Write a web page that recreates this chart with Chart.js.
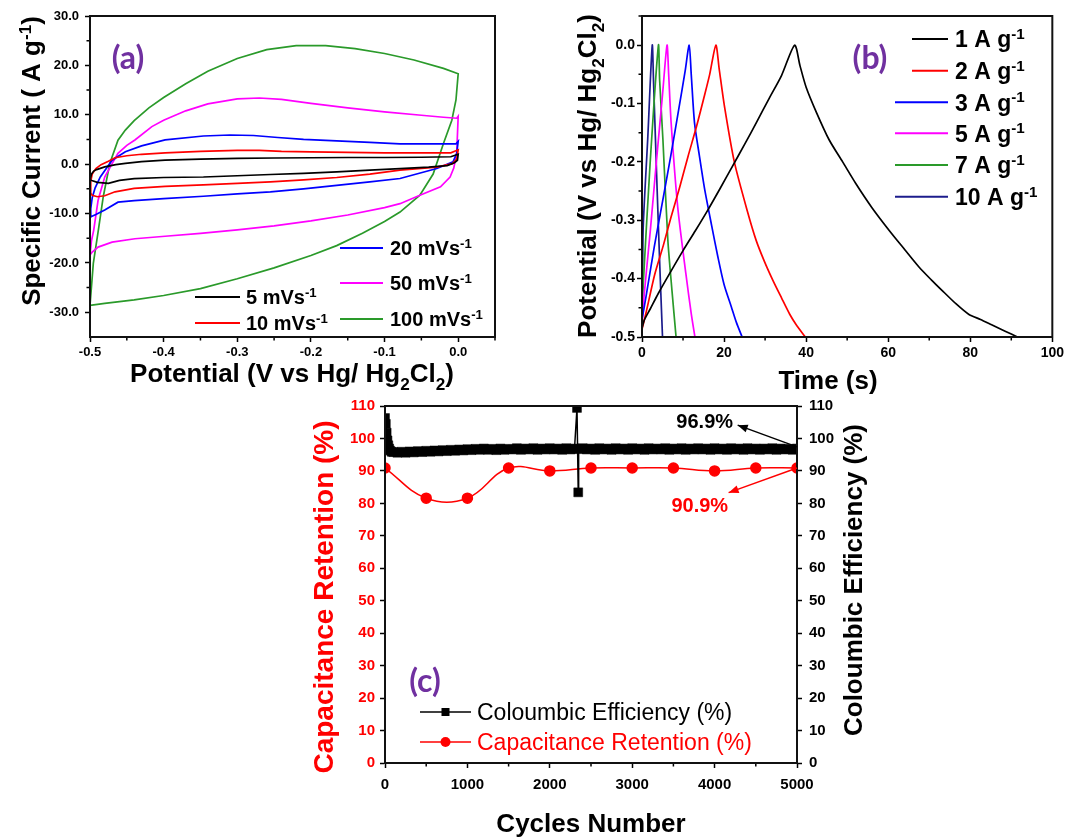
<!DOCTYPE html>
<html>
<head>
<meta charset="utf-8">
<title>CV, GCD and cycling stability</title>
<script src="https://cdn.jsdelivr.net/npm/chart.js@4.4.1/dist/chart.umd.min.js"></script>
<style>
  html, body { margin:0; padding:0; background:#ffffff; }
  body { width:1067px; height:837px; position:relative; overflow:hidden; }
  canvas { position:absolute; display:block; }
  #cvA { left:0; top:0; }
  #gcdB { left:520px; top:0; }
  #cycC { left:300px; top:390px; }
</style>
</head>
<body>
<canvas id="cvA" width="520" height="400"></canvas>
<canvas id="gcdB" width="547" height="400"></canvas>
<canvas id="cycC" width="600" height="447"></canvas>
<script>
// ---------------- DATA: (a) cyclic voltammetry ----------------
const cvRates = ['5', '10', '20', '50', '100'];
const cvTicksX = [-0.5, -0.4, -0.3, -0.2, -0.1, 0];
const cvTickLabelsX = ['-0.5', '-0.4', '-0.3', '-0.2', '-0.1', '0.0'];
const cvTicksY = [-30, -20, -10, 0, 10, 20, 30];
const cvTickLabelsY = ['-30.0', '-20.0', '-10.0', '0.0', '10.0', '20.0', '30.0'];
const cvMinorX = [-0.45, -0.35, -0.25, -0.15, -0.05, 0.05];
const cvMinorY = [-25, -15, -5, 5, 15, 25];

const cv5Pot = [-0.5,-0.498,-0.495,-0.491,-0.48,-0.465,-0.452,-0.43,-0.398,-0.35,-0.3,-0.25,-0.2,-0.15,-0.1,-0.05,-0.01,0,
                0,-0.001,-0.005,-0.015,-0.04,-0.079,-0.12,-0.165,-0.21,-0.255,-0.3,-0.346,-0.4,-0.44,-0.46,-0.475,-0.49,-0.5];
const cv5Cur = [-3.2,-2.0,-1.4,-1.1,-0.55,-0.1,0.14,0.5,0.8,1.0,1.15,1.25,1.3,1.35,1.35,1.4,1.5,2.0,
                2.0,0.8,0.3,-0.3,-0.6,-0.9,-1.2,-1.55,-1.85,-2.1,-2.35,-2.6,-2.7,-2.95,-3.3,-3.9,-3.7,-3.2];

const cv10Pot = [-0.5,-0.499,-0.497,-0.492,-0.485,-0.475,-0.466,-0.45,-0.43,-0.398,-0.35,-0.3,-0.27,-0.24,-0.2,-0.15,-0.1,-0.05,-0.01,0,
                 0,-0.002,-0.008,-0.029,-0.079,-0.12,-0.165,-0.21,-0.255,-0.3,-0.346,-0.398,-0.44,-0.466,-0.48,-0.49,-0.497,-0.5];
const cv10Cur = [-5.7,-3.5,-2.0,-0.9,-0.1,0.6,1.3,1.7,2.0,2.3,2.6,2.8,2.8,2.6,2.5,2.4,2.3,2.3,2.3,2.9,
                 2.9,1.0,0.1,-0.6,-1.2,-2.0,-2.7,-3.2,-3.6,-3.9,-4.2,-4.5,-4.9,-5.6,-6.4,-6.6,-6.3,-5.7];

const cv20Pot = [-0.5,-0.499,-0.497,-0.493,-0.486,-0.47,-0.452,-0.43,-0.398,-0.346,-0.31,-0.278,-0.245,-0.21,-0.165,-0.12,-0.079,-0.029,-0.003,0,
                 0,-0.002,-0.007,-0.029,-0.079,-0.12,-0.165,-0.21,-0.255,-0.3,-0.346,-0.4,-0.44,-0.462,-0.48,-0.492,-0.498,-0.5];
const cv20Cur = [-10.7,-9.0,-6.8,-4.8,-2.6,0.8,2.5,3.7,4.9,5.7,5.9,5.8,5.4,5.0,4.7,4.4,4.1,4.1,4.1,4.6,
                 4.6,2.2,0.46,-0.87,-2.9,-3.6,-4.3,-5.0,-5.6,-6.0,-6.5,-7.0,-7.4,-7.7,-9.3,-10.2,-10.6,-10.7];

const cv50Pot = [-0.5,-0.498,-0.495,-0.489,-0.48,-0.47,-0.462,-0.45,-0.439,-0.416,-0.4,-0.37,-0.34,-0.3,-0.27,-0.24,-0.2,-0.15,-0.1,-0.05,-0.02,-0.002,0,
                 0,-0.002,-0.006,-0.011,-0.024,-0.052,-0.079,-0.1,-0.15,-0.2,-0.25,-0.3,-0.35,-0.398,-0.439,-0.47,-0.489,-0.497,-0.5];
const cv50Cur = [-18.4,-15.5,-13.4,-7.3,-2.6,0.1,2.2,3.8,4.9,7.6,8.9,10.8,12.2,13.2,13.4,13.1,12.3,11.4,10.6,9.9,9.5,9.3,9.7,
                 9.7,2.2,-0.8,-2.6,-4.6,-6.3,-8.0,-8.8,-10.3,-11.5,-12.5,-13.3,-14.0,-14.6,-15.1,-15.8,-16.8,-17.8,-18.4];

const cv100Pot = [-0.5,-0.4955,-0.4887,-0.482,-0.473,-0.462,-0.452,-0.44,-0.42,-0.4,-0.37,-0.34,-0.3,-0.26,-0.22,-0.18,-0.14,-0.1,-0.06,-0.02,0,
                  0,-0.003,-0.0086,-0.02,-0.034,-0.052,-0.079,-0.1,-0.13,-0.165,-0.2,-0.25,-0.3,-0.35,-0.4,-0.44,-0.48,-0.5];
const cv100Cur = [-28.6,-20.1,-13.4,-6.6,0.2,4.86,6.9,8.8,11.4,13.5,16.3,18.8,21.4,23.2,24.0,24.0,23.4,22.4,21.1,19.4,18.3,
                  18.3,13.0,8.9,4.2,-2.0,-6.3,-9.7,-11.6,-14.0,-16.5,-18.5,-21.0,-23.2,-25.2,-26.6,-27.5,-28.2,-28.6];

// ---------------- DATA: (b) galvanostatic charge/discharge ----------------
const gcdCurrents = ['1', '2', '3', '5', '7', '10'];
const gcdTicksX = [0, 20, 40, 60, 80, 100];
const gcdTickLabelsX = ['0', '20', '40', '60', '80', '100'];
const gcdTicksY = [-0.5, -0.4, -0.3, -0.2, -0.1, 0];
const gcdTickLabelsY = ['-0.5', '-0.4', '-0.3', '-0.2', '-0.1', '0.0'];
const gcdMinorX = [10, 30, 50, 70, 90];
const gcdMinorY = [-0.45, -0.35, -0.25, -0.15, -0.05, 0.05];

const gcd1Time = [0,0.5,2,4,7,10,13,16,19,22,25,28,31,34,37.2, 38.5,40,42.5,45.6,48.9,52.1,56,60.2,64,67.5,70.5,73.1,76.5,79.6,82.5,85.2,88.5,91.5];
const gcd1Pot  = [-0.485,-0.472,-0.452,-0.425,-0.388,-0.352,-0.318,-0.283,-0.246,-0.208,-0.17,-0.131,-0.091,-0.052,0,
                  -0.035,-0.072,-0.115,-0.162,-0.2,-0.237,-0.278,-0.317,-0.35,-0.38,-0.402,-0.42,-0.443,-0.461,-0.47,-0.479,-0.49,-0.5];
const gcd2Time = [0,1,3.1,5.2,7.1,9.2,11.2,13.3,15.2,16.5,18, 18.8,20.1,22.5,25.7,27.8,29.8,31.9,34,36,37.5,39.8];
const gcd2Pot  = [-0.487,-0.458,-0.393,-0.343,-0.294,-0.243,-0.191,-0.139,-0.087,-0.05,0,
                  -0.04,-0.105,-0.2,-0.285,-0.334,-0.37,-0.403,-0.433,-0.461,-0.478,-0.5];
const gcd3Time = [0,1,3,5,7,9,10.5,11.5, 12,12.8,14,15.3,17,18.5,20,21.8,23,24.4];
const gcd3Pot  = [-0.47,-0.43,-0.345,-0.268,-0.19,-0.108,-0.045,0, -0.05,-0.133,-0.19,-0.248,-0.31,-0.363,-0.41,-0.449,-0.475,-0.5];
const gcd5Time = [0,0.5,2,3.5,5,6.1, 6.5,7.1,8.7,10.7,12,12.9];
const gcd5Pot  = [-0.48,-0.43,-0.32,-0.2,-0.085,0, -0.05,-0.133,-0.277,-0.392,-0.46,-0.5];
const gcd7Time = [0,0.3,2,4.0, 4.3,5.1,6.3,7.3,8.3];
const gcd7Pot  = [-0.46,-0.41,-0.2,0, -0.06,-0.162,-0.334,-0.42,-0.5];
const gcd10Time = [0,0.15,0.3,1.4,2.5, 2.8,3.7,4.4,5.0];
const gcd10Pot  = [-0.48,-0.4,-0.31,-0.16,0, -0.06,-0.25,-0.39,-0.5];

// ---------------- DATA: (c) cycling stability ----------------
const cycTicksX = [0, 1000, 2000, 3000, 4000, 5000];
const cycTickLabelsX = ['0', '1000', '2000', '3000', '4000', '5000'];
const cycTicksY = [0, 10, 20, 30, 40, 50, 60, 70, 80, 90, 100, 110];
const cycTickLabelsY = ['0', '10', '20', '30', '40', '50', '60', '70', '80', '90', '100', '110'];
const cycMinorX = [500, 1500, 2500, 3500, 4500];

const ceCycles = [0,10,20,30,40,50,60,80,100,150,200,250,300,350,400,450,500,550,600,650,700,750,800,850,900,950,
  1000,1050,1100,1150,1200,1250,1300,1350,1400,1450,1500,1550,1600,1650,1700,1750,1800,1850,1900,1950,
  2000,2050,2100,2150,2200,2250,2300,2330,2345,2350,2400,2450,2500,2550,2600,2650,2700,2750,2800,2850,2900,2950,
  3000,3050,3100,3150,3200,3250,3300,3350,3400,3450,3500,3550,3600,3650,3700,3750,3800,3850,3900,3950,
  4000,4050,4100,4150,4200,4250,4300,4350,4400,4450,4500,4550,4600,4650,4700,4750,4800,4850,4900,4950,5000];
const ceValues = [106.3,104.5,101.8,99.4,97.9,96.9,96.3,95.9,95.8,95.6,95.9,95.6,96.0,95.7,96.1,95.8,96.2,95.9,96.3,96.0,96.4,96.1,96.5,96.2,96.6,96.3,
  96.7,96.4,96.8,96.5,96.9,96.5,96.8,96.4,96.9,96.5,96.8,96.6,97.0,96.5,96.9,96.6,97.0,96.5,96.9,96.6,
  97.0,96.6,96.9,96.5,97.0,96.6,96.9,109.4,83.4,96.7,97.0,96.6,96.9,96.5,97.0,96.6,96.9,96.5,97.0,96.6,96.9,96.5,
  97.0,96.6,96.9,96.5,97.0,96.6,96.9,96.6,97.0,96.5,96.9,96.6,97.0,96.5,96.9,96.6,97.0,96.6,96.9,96.5,
  97.0,96.6,96.9,96.5,97.0,96.6,96.9,96.5,97.0,96.6,96.9,96.5,96.9,96.6,97.0,96.5,96.9,96.6,96.8,96.5,96.9];
const retCycles = [0, 500, 1000, 1500, 2000, 2500, 3000, 3500, 4000, 4500, 5000];
const retValues = [90.9, 81.6, 81.6, 90.9, 90.0, 90.9, 90.9, 90.9, 90.0, 90.9, 90.9];

// ---------------- styles ----------------
const SANS = "'Liberation Sans', Arial, Helvetica, sans-serif";
const PURPLE = '#7030a0';
const cvColors = ['#000000', '#ff0000', '#0000ff', '#ff00ff', '#2a9a2a'];
const gcdColors = ['#000000', '#ff0000', '#0000ff', '#ff00ff', '#2a9a2a', '#1c1c8c'];

// ---------------- helpers ----------------
function parseRich(s) {
  const out = [];
  s.split(/(_\{[^}]*\}|\^\{[^}]*\})/).forEach(p => {
    if (!p) return;
    if (p.startsWith('_{')) out.push({ t: p.slice(2, -1), sub: true });
    else if (p.startsWith('^{')) out.push({ t: p.slice(2, -1), sup: true });
    else out.push({ t: p });
  });
  return out;
}
function drawRich(ctx, str, x, y, o) {
  const size = o.size || 20, weight = o.weight || 'bold', fam = o.family || SANS;
  const segs = parseRich(str);
  ctx.save();
  ctx.translate(x, y);
  if (o.rot) ctx.rotate(o.rot);
  ctx.fillStyle = o.color || '#000';
  ctx.textBaseline = 'alphabetic';
  ctx.textAlign = 'left';
  let w = 0;
  const parts = segs.map(sg => {
    const sz = (sg.sub || sg.sup) ? size * 0.66 : size;
    ctx.font = weight + ' ' + sz + 'px ' + fam;
    const m = ctx.measureText(sg.t).width;
    w += m;
    return { sg, sz, m };
  });
  let cx = o.align === 'left' ? 0 : (o.align === 'right' ? -w : -w / 2);
  const base = size * 0.36;
  parts.forEach(p => {
    ctx.font = weight + ' ' + p.sz + 'px ' + fam;
    const dy = p.sg.sub ? size * 0.3 : (p.sg.sup ? -size * 0.36 : 0);
    ctx.fillText(p.sg.t, cx, base + dy);
    cx += p.m;
  });
  ctx.restore();
}

let decorCount = 0;
function makeDecor(cfg) {
  decorCount += 1;
  return {
    id: 'decor' + decorCount,
    afterDraw(chart) {
      const { ctx, chartArea: a, scales } = chart;
      const sx = scales.x, sy = scales.y;
      ctx.save();
      ctx.strokeStyle = '#000';
      ctx.lineWidth = 1.5;
      ctx.beginPath();
      (cfg.minorX || []).forEach(v => { const p = sx.getPixelForValue(v); ctx.moveTo(p, a.bottom); ctx.lineTo(p, a.bottom + 3.5); });
      (cfg.minorY || []).forEach(v => { const p = sy.getPixelForValue(v); ctx.moveTo(a.left, p); ctx.lineTo(a.left - 3.5, p); });
      ctx.stroke();
      ctx.lineWidth = 2;
      ctx.strokeStyle = '#111';
      ctx.strokeRect(a.left, a.top, a.right - a.left, a.bottom - a.top);
      ctx.restore();

      (cfg.arrows || []).forEach(ar => {
        const ys = scales[ar.axis];
        const x1 = sx.getPixelForValue(ar.from[0]), y1 = ys.getPixelForValue(ar.from[1]);
        const x2 = sx.getPixelForValue(ar.to[0]), y2 = ys.getPixelForValue(ar.to[1]);
        ctx.save();
        ctx.strokeStyle = ar.color; ctx.fillStyle = ar.color; ctx.lineWidth = 1.5;
        ctx.beginPath(); ctx.moveTo(x1, y1); ctx.lineTo(x2, y2); ctx.stroke();
        const ang = Math.atan2(y2 - y1, x2 - x1), L = 10, W = 4;
        ctx.beginPath();
        ctx.moveTo(x2, y2);
        ctx.lineTo(x2 - L * Math.cos(ang) + W * Math.sin(ang), y2 - L * Math.sin(ang) - W * Math.cos(ang));
        ctx.lineTo(x2 - L * Math.cos(ang) - W * Math.sin(ang), y2 - L * Math.sin(ang) + W * Math.cos(ang));
        ctx.closePath(); ctx.fill();
        ctx.restore();
      });

      (cfg.texts || []).forEach(t => {
        let x = t.x, y = t.y;
        if (t.at) { x = sx.getPixelForValue(t.at[0]); y = scales[t.at[2]].getPixelForValue(t.at[1]); }
        drawRich(ctx, t.text, x, y, t);
      });

      (cfg.legend || []).forEach(l => {
        const ds = chart.data.datasets[l.ds];
        ctx.save();
        ctx.strokeStyle = ds.borderColor;
        ctx.lineWidth = l.lw || 2;
        ctx.beginPath(); ctx.moveTo(l.x1, l.y); ctx.lineTo(l.x2, l.y); ctx.stroke();
        if (l.marker === 'rect') { ctx.fillStyle = ds.borderColor; ctx.fillRect((l.x1 + l.x2) / 2 - 4, l.y - 4, 8, 8); }
        if (l.marker === 'circle') { ctx.fillStyle = ds.borderColor; ctx.beginPath(); ctx.arc((l.x1 + l.x2) / 2, l.y, 5, 0, Math.PI * 2); ctx.fill(); }
        ctx.restore();
        drawRich(ctx, ds.label, l.tx, l.y, { size: l.size, weight: l.weight, align: 'left', color: l.color || '#000' });
      });
    }
  };
}

function fixedTicks(vals) { return s => { s.ticks = vals.map(v => ({ value: v })); }; }
function labelFor(vals, labels) { return v => { const i = vals.indexOf(v); return i < 0 ? '' : labels[i]; }; }
function axisStyle() {
  return {
    grid: { drawOnChartArea: false, drawTicks: true, tickLength: 5, tickWidth: 1.5, tickColor: '#000' },
    border: { display: true, color: '#111', width: 2 }
  };
}
const basePlugins = { legend: { display: false }, tooltip: { enabled: false } };

function build() {
  Chart.defaults.font.family = SANS;
  Chart.defaults.color = '#000';

  // ---------- (a) ----------
  const cvPairs = [[cv5Pot, cv5Cur], [cv10Pot, cv10Cur], [cv20Pot, cv20Cur], [cv50Pot, cv50Cur], [cv100Pot, cv100Cur]];
  const cvSets = cvPairs.map((d, i) => ({
    label: cvRates[i] + ' mVs^{-1}',
    data: d[0].map((x, j) => ({ x: x, y: d[1][j] })),
    showLine: true, borderColor: cvColors[i], backgroundColor: cvColors[i],
    borderWidth: 1.7, pointRadius: 0, tension: 0, fill: false
  }));
  const decorA = makeDecor({
    minorX: cvMinorX, minorY: cvMinorY,
    texts: [
      { text: '(a)', x: 128, y: 57, size: 32, family: 'Lato, sans-serif', color: PURPLE },
      { text: 'Specific Current ( A g^{-1})', x: 31, y: 161, size: 26, rot: -Math.PI / 2 },
      { text: 'Potential (V vs Hg/ Hg_{2}Cl_{2})', x: 292, y: 373, size: 26 }
    ],
    legend: [
      { ds: 0, x1: 195, x2: 240, y: 297, tx: 246, size: 20 },
      { ds: 1, x1: 195, x2: 240, y: 323, tx: 246, size: 20 },
      { ds: 2, x1: 340, x2: 383, y: 248, tx: 390, size: 20 },
      { ds: 3, x1: 340, x2: 383, y: 283, tx: 390, size: 20 },
      { ds: 4, x1: 340, x2: 383, y: 319, tx: 390, size: 20 }
    ]
  });
  new Chart(document.getElementById('cvA'), {
    type: 'scatter',
    data: { datasets: cvSets },
    options: {
      responsive: false, animation: false, events: [],
      layout: { padding: { top: 16, right: 25, left: 0, bottom: 0 } },
      plugins: basePlugins,
      scales: {
        x: Object.assign({
          type: 'linear', min: -0.5, max: 0.05,
          afterFit: s => { s.height = 63; },
          afterBuildTicks: fixedTicks(cvTicksX),
          ticks: { callback: labelFor(cvTicksX, cvTickLabelsX), font: { size: 13, weight: 'bold' }, padding: 3, maxRotation: 0, autoSkip: false, color: '#000' }
        }, axisStyle()),
        y: Object.assign({
          type: 'linear', min: -35, max: 30,
          afterFit: s => { s.width = 90; },
          afterBuildTicks: fixedTicks(cvTicksY),
          ticks: { callback: labelFor(cvTicksY, cvTickLabelsY), font: { size: 13, weight: 'bold' }, padding: 6, autoSkip: false, color: '#000' }
        }, axisStyle())
      }
    },
    plugins: [decorA]
  });

  // ---------- (b) ----------
  const gcdPairs = [[gcd1Time, gcd1Pot], [gcd2Time, gcd2Pot], [gcd3Time, gcd3Pot], [gcd5Time, gcd5Pot], [gcd7Time, gcd7Pot], [gcd10Time, gcd10Pot]];
  const gcdSets = gcdPairs.map((d, i) => ({
    label: gcdCurrents[i] + ' A g^{-1}',
    data: d[0].map((x, j) => ({ x: x, y: d[1][j] })),
    showLine: true, borderColor: gcdColors[i], backgroundColor: gcdColors[i],
    borderWidth: 1.7, pointRadius: 0, tension: 0.25, fill: false
  }));
  const legRowsB = [39, 70.7, 102.3, 133.3, 165, 196.7];
  const decorB = makeDecor({
    minorX: gcdMinorX, minorY: gcdMinorY,
    texts: [
      { text: '(b)', x: 350, y: 57, size: 32, family: 'Lato, sans-serif', color: PURPLE },
      { text: 'Potential (V vs Hg/ Hg_{2}Cl_{2})', x: 67, y: 176, size: 26, rot: -Math.PI / 2 },
      { text: 'Time (s)', x: 308, y: 380, size: 26 }
    ],
    legend: legRowsB.map((y, i) => ({ ds: i, x1: i < 2 ? 392 : 375, x2: 428, y: y, tx: 435, size: 23 }))
  });
  new Chart(document.getElementById('gcdB'), {
    type: 'scatter',
    data: { datasets: gcdSets },
    options: {
      responsive: false, animation: false, events: [],
      layout: { padding: { top: 16, right: 13, left: 0, bottom: 0 } },
      plugins: basePlugins,
      scales: {
        x: Object.assign({
          type: 'linear', min: 0, max: 100,
          afterFit: s => { s.height = 63; },
          afterBuildTicks: fixedTicks(gcdTicksX),
          ticks: { callback: labelFor(gcdTicksX, gcdTickLabelsX), font: { size: 14, weight: 'bold' }, padding: 3, maxRotation: 0, autoSkip: false, color: '#000' }
        }, axisStyle()),
        y: Object.assign({
          type: 'linear', min: -0.5, max: 0.05,
          afterFit: s => { s.width = 122; },
          afterBuildTicks: fixedTicks(gcdTicksY),
          ticks: { callback: labelFor(gcdTicksY, gcdTickLabelsY), font: { size: 14, weight: 'bold' }, padding: 2, autoSkip: false, color: '#000' }
        }, axisStyle())
      }
    },
    plugins: [decorB]
  });

  // ---------- (c) ----------
  const decorC = makeDecor({
    minorX: cycMinorX,
    texts: [
      { text: '(c)', x: 125, y: 290, size: 32, family: 'Lato, sans-serif', color: PURPLE },
      { text: 'Cycles Number', x: 291, y: 433, size: 26 },
      { text: 'Capacitance Retention (%)', x: 23, y: 207, size: 28, rot: -Math.PI / 2, color: '#ff0000' },
      { text: 'Coloumbic Efficiency (%)', x: 553, y: 190, size: 26, rot: -Math.PI / 2 },
      { text: '96.9%', at: [3880, 105.4, 'y2'], size: 20 },
      { text: '90.9%', at: [3820, 79.6, 'y'], size: 20, color: '#ff0000' }
    ],
    arrows: [
      { from: [5000, 97.4], to: [4280, 104.1], axis: 'y2', color: '#000' },
      { from: [5000, 90.9], to: [4170, 83.3], axis: 'y', color: '#ff0000' }
    ],
    legend: [
      { ds: 0, x1: 120, x2: 171, y: 322, tx: 177, size: 23, weight: 'normal', marker: 'rect', color: '#000', lw: 1.5 },
      { ds: 1, x1: 120, x2: 171, y: 352, tx: 177, size: 23, weight: 'normal', marker: 'circle', color: '#ff0000', lw: 1.5 }
    ]
  });
  new Chart(document.getElementById('cycC'), {
    type: 'scatter',
    data: {
      datasets: [
        {
          label: 'Coloumbic Efficiency (%)', yAxisID: 'y2',
          data: ceCycles.map((x, j) => ({ x: x, y: ceValues[j] })),
          showLine: true, borderColor: '#000000', backgroundColor: '#000000', borderWidth: 1.5,
          pointStyle: 'rect', pointRadius: 6.3, pointBackgroundColor: '#000', pointBorderColor: '#000', pointBorderWidth: 0.5, tension: 0
        },
        {
          label: 'Capacitance Retention (%)', yAxisID: 'y',
          data: retCycles.map((x, j) => ({ x: x, y: retValues[j] })),
          showLine: true, borderColor: '#ff0000', backgroundColor: '#ff0000', borderWidth: 1.5,
          pointStyle: 'circle', pointRadius: 5, pointBackgroundColor: '#ff0000', pointBorderColor: '#ff0000', tension: 0.4
        }
      ]
    },
    options: {
      responsive: false, animation: false, events: [],
      layout: { padding: { top: 15, right: 0, left: 0, bottom: 0 } },
      plugins: basePlugins,
      scales: {
        x: Object.assign({
          type: 'linear', min: 0, max: 5000,
          afterFit: s => { s.height = 74; },
          afterBuildTicks: fixedTicks(cycTicksX),
          ticks: { callback: labelFor(cycTicksX, cycTickLabelsX), font: { size: 15, weight: 'bold' }, padding: 8, maxRotation: 0, autoSkip: false, color: '#000' }
        }, axisStyle()),
        y: Object.assign({
          type: 'linear', position: 'left', min: 0, max: 110,
          afterFit: s => { s.width = 85; },
          afterBuildTicks: fixedTicks(cycTicksY),
          ticks: { callback: labelFor(cycTicksY, cycTickLabelsY), font: { size: 15, weight: 'bold' }, padding: 5, autoSkip: false, color: '#ff0000' }
        }, axisStyle()),
        y2: Object.assign({
          type: 'linear', position: 'right', min: 0, max: 110,
          afterFit: s => { s.width = 103; },
          afterBuildTicks: fixedTicks(cycTicksY),
          ticks: { callback: labelFor(cycTicksY, cycTickLabelsY), font: { size: 15, weight: 'bold' }, padding: 7, autoSkip: false, color: '#000' }
        }, axisStyle())
      }
    },
    plugins: [decorC]
  });
}

const fontLoads = ['bold 20px "Liberation Sans"', '20px "Liberation Sans"', 'bold 32px Lato'].map(f => document.fonts.load(f).catch(() => null));
Promise.race([Promise.all(fontLoads), new Promise(r => setTimeout(r, 1500))]).then(build, build);
</script>
</body>
</html>
